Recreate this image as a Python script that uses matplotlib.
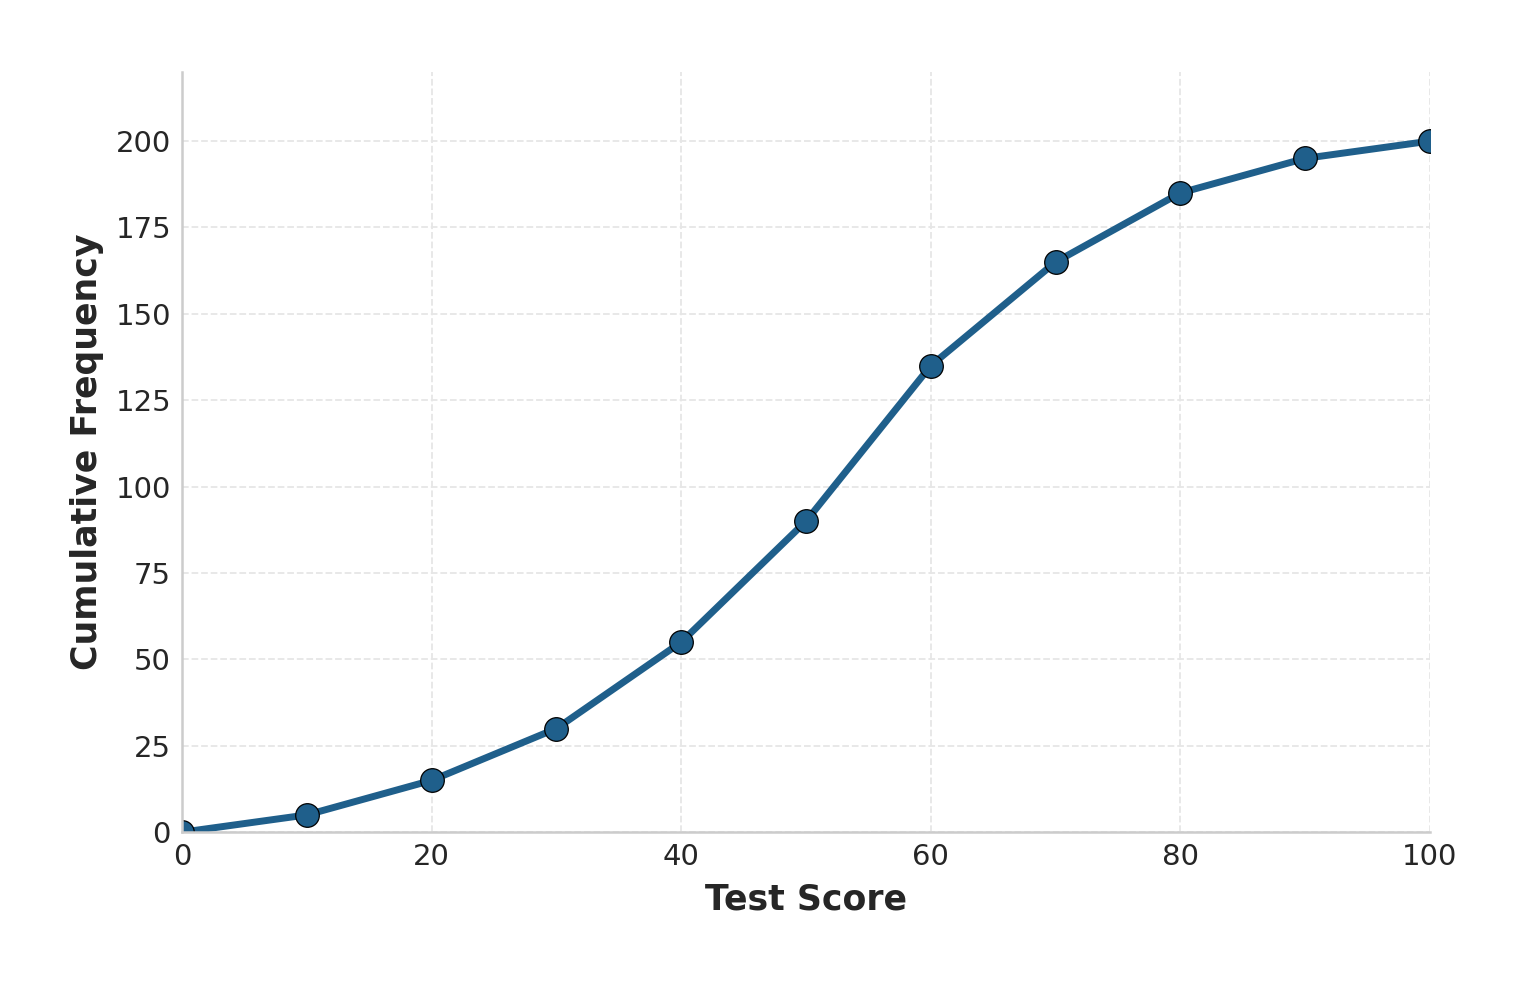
import matplotlib
matplotlib.use('Agg')
import matplotlib.pyplot as plt
import numpy as np

# cumulative frequency data
scores = [0, 10, 20, 30, 40, 50, 60, 70, 80, 90, 100]
cum_freq = [0, 5, 15, 30, 55, 90, 135, 165, 185, 195, 200]

x_ticks = [0, 20, 40, 60, 80, 100]
y_ticks = [0, 25, 50, 75, 100, 125, 150, 175, 200]

fig = plt.figure(figsize=(15.3, 9.86), dpi=100)
ax = fig.add_axes([0.119, 0.156, 0.8156, 0.771])

ax.plot(scores, cum_freq, color='#1f5f8b', lw=5, marker='o', markersize=17,
        markerfacecolor='#1f5f8b', markeredgecolor='black', markeredgewidth=0.9,
        zorder=3)

ax.set_xlim(0, 100)
ax.set_ylim(0, 220)
ax.set_xticks(x_ticks)
ax.set_yticks(y_ticks)

ax.grid(True, linestyle='--', color='#e6e6e6', lw=1.3, zorder=0)
ax.set_axisbelow(True)

for side in ['top', 'right']:
    ax.spines[side].set_visible(False)
for side in ['left', 'bottom']:
    ax.spines[side].set_color('#cccccc')
    ax.spines[side].set_linewidth(1.8)
    ax.spines[side].set_zorder(4)

ax.tick_params(axis='both', length=0, pad=8, labelsize=21, labelcolor='#262626')

ax.set_xlabel('Test Score', fontsize=25, fontweight='bold', color='#262626', labelpad=8)
ax.set_ylabel('Cumulative Frequency', fontsize=25, fontweight='bold', color='#262626', labelpad=8)

fig.savefig('out.png', dpi=100)
plt.close()
